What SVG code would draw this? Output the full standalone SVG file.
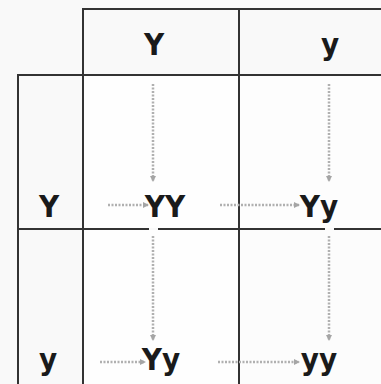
<svg xmlns="http://www.w3.org/2000/svg" width="381" height="384" viewBox="0 0 381 384">
<defs>
<style>
.grid{stroke:#333;stroke-width:2;fill:none}
.t{font-family:"DejaVu Sans Condensed","DejaVu Sans","Liberation Sans",sans-serif;font-weight:bold;font-size:31px;fill:#1a1a1a;text-anchor:middle}
.arr{stroke:#b0b0b0;stroke-width:2.5;stroke-dasharray:2 1.5;fill:none;marker-end:url(#ah)}
</style>
<marker id="ah" markerWidth="6" markerHeight="6" refX="5" refY="3" orient="auto" markerUnits="userSpaceOnUse">
<path d="M0,0 L6,3 L0,6 z" fill="#a5a5a5"/>
</marker>
</defs>
<rect width="381" height="384" fill="#f9f9f9"/>
<rect x="84" y="76" width="154" height="152" fill="#fefefe"/>
<rect x="240" y="76" width="141" height="152" fill="#fdfdfd"/>
<rect x="84" y="230" width="154" height="154" fill="#fefefe"/>
<rect x="240" y="230" width="141" height="154" fill="#fcfcfc"/>
<g id="grid">
<path class="grid" d="M83,384 V9 H381 M239,9 V384 M18,384 V75 H381 M18,229 H149 M158,229 H325 M334,229 H381"/>
</g>
<g id="connectors">
<line class="arr" x1="153" y1="84" x2="153" y2="181"/>
<line class="arr" x1="329" y1="84" x2="329" y2="181"/>
<line class="arr" x1="108" y1="205" x2="148" y2="205"/>
<line class="arr" x1="220" y1="205" x2="299" y2="205"/>
<line class="arr" x1="153" y1="236" x2="153" y2="340"/>
<line class="arr" x1="329" y1="236" x2="329" y2="340"/>
<line class="arr" x1="100" y1="362" x2="145" y2="362"/>
<line class="arr" x1="218" y1="362" x2="299" y2="362"/>
</g>
<g id="h-Y"><text class="t" x="154" y="55">Y</text></g>
<g id="h-y"><text class="t" x="330" y="55">y</text></g>
<g id="r-Y"><text class="t" x="49" y="217">Y</text></g>
<g id="r-y"><text class="t" x="48" y="370">y</text></g>
<g id="c-YY"><text class="t" x="165" y="217">YY</text></g>
<g id="c-Yy1"><text class="t" x="319" y="217">Yy</text></g>
<g id="c-Yy2"><text class="t" x="161" y="370">Yy</text></g>
<g id="c-yy"><text class="t" x="319" y="370">yy</text></g>
</svg>
